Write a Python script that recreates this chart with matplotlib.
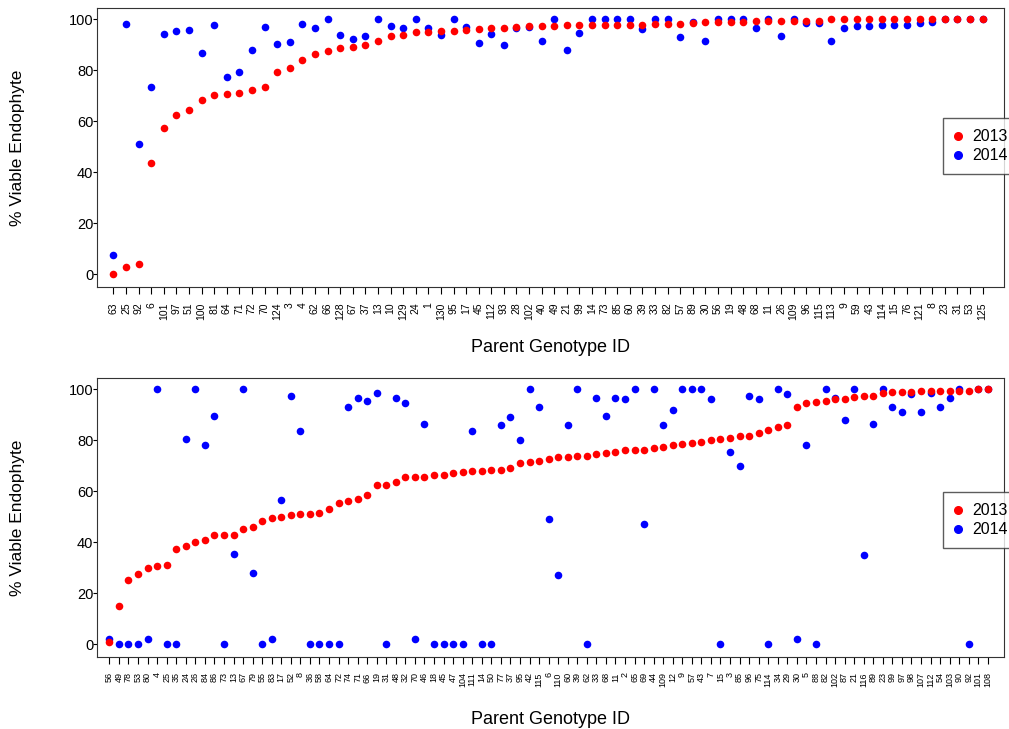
import matplotlib
matplotlib.use("Agg")
import matplotlib.pyplot as plt
from matplotlib.lines import Line2D

plt.rcParams['font.family'] = ['Liberation Sans', 'DejaVu Sans']

# ---------------- top panel data ----------------
top_ids = ["63", "25", "92", "6", "101", "97", "51", "100", "81", "64",
           "71", "72", "70", "124", "3", "4", "62", "66", "128", "67",
           "37", "13", "10", "129", "24", "1", "130", "95", "17", "45",
           "112", "93", "28", "102", "40", "49", "21", "99", "14", "73",
           "85", "60", "39", "33", "82", "57", "89", "30", "56", "19",
           "48", "68", "11", "26", "109", "96", "115", "113", "9", "59",
           "43", "114", "15", "76", "121", "8", "23", "31", "53", "125"]
top_2013 = [0, 2.9, 4.3, 43.9, 57.4, 62.4, 64.4, 68.4, 70.5, 70.9,
            71.2, 72.2, 73.5, 79.6, 80.8, 84.3, 86.3, 87.5, 88.8, 89.4,
            89.9, 91.5, 93.7, 94.1, 94.9, 95.0, 95.3, 95.6, 95.8, 96.1,
            96.5, 96.7, 96.9, 97.3, 97.4, 97.5, 97.8, 97.8, 97.9, 97.9,
            97.9, 98.0, 98.0, 98.2, 98.2, 98.3, 98.6, 98.9, 99.1, 99.1,
            99.2, 99.3, 99.3, 99.3, 99.5, 99.5, 99.5, 100, 100, 100,
            100, 100, 100, 100, 100, 100, 100, 100, 100, 100]
top_2014 = [7.7, 98.4, 51.0, 73.7, 94.4, 95.5, 95.9, 86.9, 97.9, 77.4,
            79.5, 88.2, 96.9, 90.5, 91.1, 98.2, 96.7, 100, 94.0, 92.3,
            93.7, 100, 97.5, 96.7, 100, 96.5, 94.1, 100, 96.9, 90.9,
            94.4, 89.9, 96.5, 97.0, 91.6, 100, 88.0, 94.6, 100, 100,
            100, 100, 96.3, 100, 100, 93.2, 99.0, 91.5, 100, 100,
            100, 96.5, 100, 93.6, 100, 98.6, 98.6, 91.6, 96.7, 97.5,
            97.5, 97.8, 98.0, 98.0, 98.6, 99.2, 100, 100, 100, 100]

# ---------------- bottom panel data ----------------
bot_ids = ["56", "49", "78", "53", "80", "4", "25", "35", "24", "26",
           "84", "86", "73", "13", "67", "79", "55", "83", "17", "52",
           "8", "36", "58", "64", "72", "74", "71", "66", "19", "31",
           "48", "32", "70", "46", "18", "45", "47", "104", "111", "14",
           "50", "77", "37", "95", "42", "115", "6", "110", "60", "39",
           "62", "33", "68", "11", "2", "65", "69", "44", "109", "12",
           "9", "57", "43", "7", "15", "3", "85", "96", "75", "114",
           "34", "29", "30", "5", "88", "82", "102", "87", "21", "116",
           "89", "23", "99", "97", "98", "107", "112", "54", "103", "90",
           "92", "101", "108"]
bot_2013 = [1, 15, 25, 27.5, 30, 30.5, 31, 37.5, 38.5, 40,
            41, 43, 43, 43, 45, 46, 48.5, 49.5, 50, 50.5,
            51, 51, 51.5, 53, 55.5, 56, 57, 58.5, 62.5, 62.5,
            63.5, 65.5, 65.5, 65.5, 66.5, 66.5, 67, 67.5, 68, 68,
            68.5, 68.5, 69, 71, 71.5, 72, 72.5, 73.5, 73.5, 74,
            74, 74.5, 75, 75.5, 76, 76, 76, 77, 77.5, 78,
            78.5, 79, 79.5, 80, 80.5, 81, 81.5, 81.5, 83, 84,
            85, 86, 93, 94.5, 95, 95.5, 96, 96, 97, 97.5,
            97.5, 98.5, 99, 99, 99, 99.5, 99.5, 99.5, 99.5, 99.5,
            99.5, 100, 100]
bot_2014 = [2, 0, 0, 0, 2, 100, 0, 0, 80.5, 100,
            78, 89.5, 0, 35.5, 100, 28, 0, 2, 56.5, 97.5,
            83.5, 0, 0, 0, 0, 93, 96.5, 95.5, 98.5, 0,
            96.5, 94.5, 2, 86.5, 0, 0, 0, 0, 83.5, 0,
            0, 86, 89, 80, 100, 93, 49, 27, 86, 100,
            0, 96.5, 89.5, 96.5, 96, 100, 47, 100, 86, 92,
            100, 100, 100, 96, 0, 75.5, 70, 97.5, 96, 0,
            100, 98, 2, 78, 0, 100, 96.5, 88, 100, 35,
            86.5, 100, 93, 91, 98, 91, 98.5, 93, 96.5, 100,
            0, 100, 100]

W, H = 1009, 729
fig = plt.figure(figsize=(W / 100, H / 100), dpi=100)


def panel(rect, ids, v13, v14, label_fs, legend_top_px, xlabel_px):
    ax = fig.add_axes(rect)
    x = list(range(len(ids)))
    ax.scatter(x, v14, s=30, color="#0000FF", linewidths=0, zorder=2)
    ax.scatter(x, v13, s=30, color="#FF0000", linewidths=0, zorder=3)
    n = len(ids)
    ax.set_xlim(-1.3, n - 1 + 1.7)
    ax.set_ylim(-5, 104.5)
    ax.set_xticks(x)
    ax.set_xticklabels(ids, rotation=90, fontsize=label_fs)
    ax.set_yticks([0, 20, 40, 60, 80, 100])
    ax.tick_params(axis='y', labelsize=10.5, length=3, pad=-0.5, direction='out')
    ax.tick_params(axis='x', length=5, direction='out', pad=6)
    ax.set_ylabel("% Viable Endophyte", fontsize=12.5)
    ax.yaxis.set_label_coords(-0.0795, 0.5)
    ax.set_xlabel("Parent Genotype ID", fontsize=13, va='center')
    bottom_px = H - rect[1] * H
    height_px = rect[3] * H
    ax.xaxis.set_label_coords(0.5, (bottom_px - xlabel_px) / height_px)
    for s in ax.spines.values():
        s.set_color("#333333")
    handles = [Line2D([], [], marker='o', linestyle='none', color="#FF0000", markersize=5.5),
               Line2D([], [], marker='o', linestyle='none', color="#0000FF", markersize=5.5)]
    leg = fig.legend(handles, ["2013", "2014"], loc='upper left',
                     bbox_to_anchor=(943 / W, 1 - legend_top_px / H),
                     bbox_transform=fig.transFigure, borderaxespad=0,
                     fontsize=11.5, frameon=True, fancybox=False,
                     handletextpad=0.62, handlelength=0.5, borderpad=0.7,
                     labelspacing=0.25)
    leg.get_frame().set_edgecolor("#333333")
    leg.get_frame().set_linewidth(1.0)
    return ax


panel([0.0961, 0.606, 0.899, 0.383], top_ids, top_2013, top_2014, 7.5, 118, 348)
panel([0.0961, 0.0988, 0.899, 0.383], bot_ids, bot_2013, bot_2014, 6.5, 492, 720)

fig.savefig("out.png", dpi=100)
